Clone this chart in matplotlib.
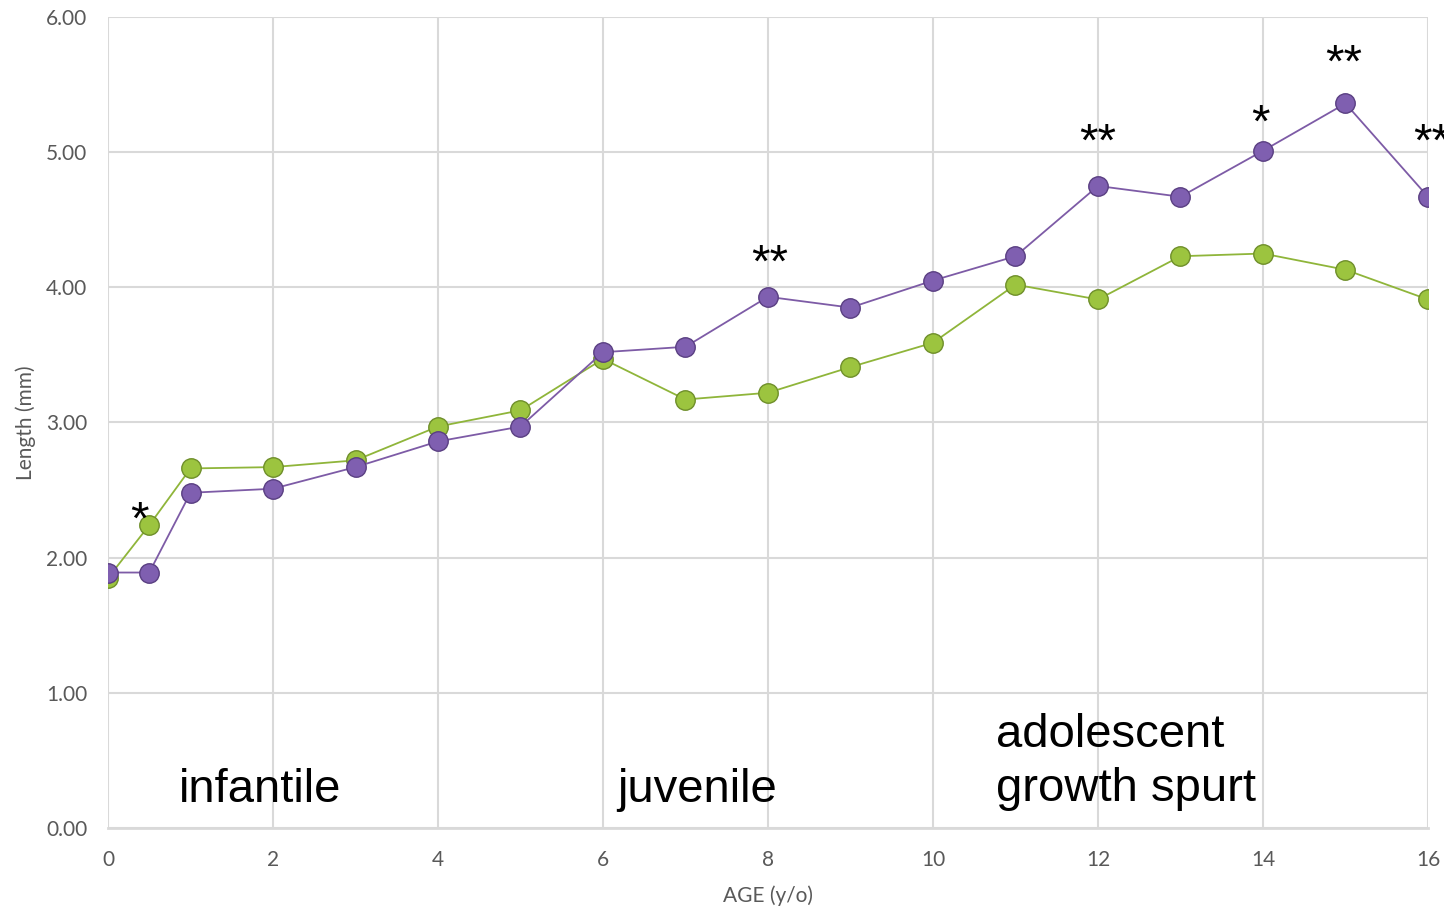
import matplotlib
matplotlib.use("Agg")
from matplotlib import pyplot as plt

# данные
age = [0, 0.5, 1, 2, 3, 4, 5, 6, 7, 8, 9, 10, 11, 12, 13, 14, 15, 16]
green = [1.85, 2.24, 2.66, 2.67, 2.72, 2.97, 3.09, 3.47, 3.17, 3.22, 3.41, 3.59,
         4.02, 3.91, 4.23, 4.25, 4.13, 3.91]
purple = [1.89, 1.89, 2.48, 2.51, 2.67, 2.86, 2.97, 3.52, 3.56, 3.93, 3.85, 4.05,
          4.23, 4.75, 4.67, 5.01, 5.36, 4.67]

stars_x = [0.38, 8.02, 12.0, 13.97, 14.98, 16.05]
stars_y = [2.33, 4.23, 5.13, 5.27, 5.71, 5.13]
stars_txt = ["*", "**", "**", "*", "**", "**"]

xticks = [0, 2, 4, 6, 8, 10, 12, 14, 16]
yticks = [0, 1, 2, 3, 4, 5, 6]

fig = plt.figure(figsize=(14.44, 9.13), dpi=100)
ax = fig.add_axes([0.0748, 0.0931, 0.9141, 0.8883])

ax.plot(age, green, color="#8fb53a", lw=1.3, marker="o", ms=14,
        mfc="#9cc43f", mec="#6f8f2a", mew=1.0, zorder=3)
ax.plot(age, purple, color="#7d5ba6", lw=1.3, marker="o", ms=14,
        mfc="#7f5fb0", mec="#5a3f82", mew=1.0, zorder=4)

for x, y, t in zip(stars_x, stars_y, stars_txt):
    ax.text(x, y - 0.155, t, ha="center", va="baseline", fontsize=34,
            family="Liberation Sans", clip_on=False)

ax.text(1.84, 0.28, "infantile", ha="center", va="center", fontsize=34,
        family="Liberation Sans")
ax.text(7.14, 0.28, "juvenile", ha="center", va="center", fontsize=34,
        family="Liberation Sans")
ax.text(10.76, 0.49, "adolescent\ngrowth spurt", ha="left", va="center",
        fontsize=34, family="Liberation Sans", linespacing=1.3)

ax.set_xlim(0, 16)
ax.set_ylim(0, 6)
ax.set_xticks(xticks)
ax.set_yticks(yticks)
ax.set_yticklabels(["%.2f" % v for v in yticks])
ax.grid(True, color="#d9d9d9", lw=1.5)
ax.set_axisbelow(True)
for s in ["top", "right", "left"]:
    ax.spines[s].set_visible(False)
ax.spines["bottom"].set_color("#d9d9d9")
ax.spines["bottom"].set_linewidth(2)
ax.tick_params(length=0, labelsize=15, colors="#595959")
ax.tick_params(axis="x", pad=16)
ax.tick_params(axis="y", pad=15)
for lab in ax.get_xticklabels() + ax.get_yticklabels():
    lab.set_family("Lato")

ax.set_xlabel("AGE (y/o)", fontsize=15, color="#595959", family="Lato", labelpad=11)
ax.set_ylabel("Length (mm)", fontsize=15, color="#595959", family="Lato", labelpad=7)

fig.savefig("out.png", dpi=100)
